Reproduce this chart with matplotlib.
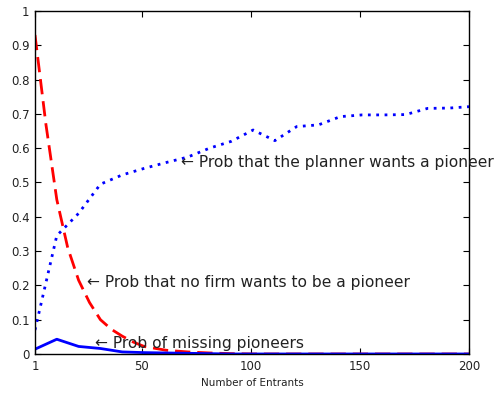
import numpy as np
import matplotlib
matplotlib.use("Agg")
import matplotlib.pyplot as plt

# Number of entrants at which the series were sampled
entrants = [1, 11, 21, 31, 41, 51, 61, 71, 81, 91, 101, 111, 121, 131, 141,
            151, 161, 171, 181, 191, 200]

# Prob that the planner wants a pioneer (blue dotted)
p_planner = [0.07, 0.345, 0.41, 0.495, 0.522, 0.541, 0.558, 0.574, 0.60, 0.62,
             0.653, 0.622, 0.663, 0.668, 0.692, 0.697, 0.697, 0.698, 0.716,
             0.717, 0.721]

# Prob of missing pioneers (blue solid)
p_missing = [0.014, 0.043, 0.022, 0.016, 0.006, 0.004, 0.003, 0.002, 0.001,
             0.0, 0.0, 0.0, 0.0, 0.0, 0.0, 0.0, 0.0, 0.0, 0.0, 0.0, 0.0]

# Prob that no firm wants to be a pioneer (red dashed), read at finer steps
entrants_nofirm = [1, 6, 11, 16, 21, 26, 31, 36, 41, 46, 51, 61, 71, 81, 91,
                   101, 121, 141, 161, 181, 200]
p_nofirm = [0.93, 0.67, 0.45, 0.31, 0.215, 0.15, 0.10, 0.072, 0.052, 0.035,
            0.022, 0.011, 0.006, 0.003, 0.001, 0.0, 0.0, 0.0, 0.0, 0.0, 0.0]

xticks = [1, 50, 100, 150, 200]
yticks = np.arange(0, 1.01, 0.1)
ytick_labels = ["0", "0.1", "0.2", "0.3", "0.4", "0.5", "0.6", "0.7", "0.8", "0.9", "1"]

fig = plt.figure(figsize=(4.97, 3.98), dpi=100)
ax = fig.add_axes([0.0704, 0.1106, 0.8733, 0.8618])

ax.plot(entrants_nofirm, p_nofirm, color="red", linestyle=(0, (5.5, 2.5)), linewidth=2)
ax.plot(entrants, p_planner, color="blue", linestyle=(0, (1, 2)), linewidth=2)
ax.plot(entrants, p_missing, color="blue", linestyle="-", linewidth=2)

ax.set_xlim(1, 200)
ax.set_ylim(0, 1)
ax.set_xticks(xticks)
ax.set_xticklabels([str(t) for t in xticks])
ax.set_yticks(yticks)
ax.set_yticklabels(ytick_labels)
ax.tick_params(direction="in", length=4, width=0.8, top=True, right=True,
               labelsize=8.5, pad=4, labelcolor="#222222")
ax.set_xlabel("Number of Entrants", fontsize=7.5, labelpad=4, color="#222222")
for s in ax.spines.values():
    s.set_linewidth(1)

txt = dict(fontsize=11.2, va="center", ha="left", clip_on=False, color="#222222")
ax.text(68, 0.557, "\u2190 Prob that the planner wants a pioneer", **txt)
ax.text(24.9, 0.207, "\u2190 Prob that no firm wants to be a pioneer", **txt)
ax.text(28.5, 0.030, "\u2190 Prob of missing pioneers", **txt)

fig.savefig("out.png", dpi=100)
